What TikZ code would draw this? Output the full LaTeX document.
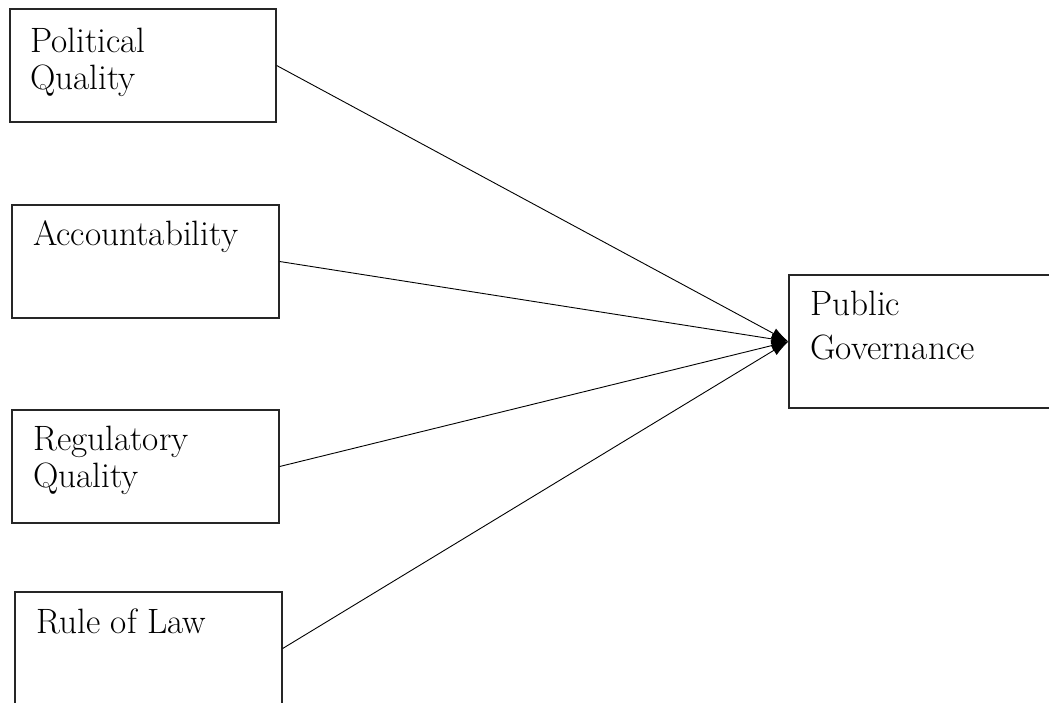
\documentclass[tikz,border=0pt]{standalone}
\usetikzlibrary{arrows.meta}
\begin{document}
\begin{tikzpicture}[x=1pt,y=-1pt,
  box/.style={draw=black!85, line width=1.3pt, rectangle, inner sep=0pt},
  lbl/.style={anchor=base west, inner sep=0pt, font=\fontsize{35.2}{40}\selectfont},
  conn/.style={draw=black, line width=0.9pt, -{Latex[length=17pt,width=11pt]}}]
\useasboundingbox (0,0) rectangle (1049,702);
\clip (0,0) rectangle (1049,702);
\node[box, minimum width=266pt, minimum height=113pt] (pq) at (143,65.5) {};
\node[box, minimum width=267pt, minimum height=113pt] (ac) at (145.5,261.5) {};
\node[box, minimum width=267pt, minimum height=113pt] (rq) at (145.5,466.5) {};
\node[box, minimum width=267pt, minimum height=113pt] (rl) at (148.5,648.5) {};
\node[box, minimum width=267pt, minimum height=133pt] (pg) at (922.5,341.5) {};
\node[lbl] (t1) at (30,52) {Political};
\node[lbl] (t2) at (30,89) {Quality};
\node[lbl] (t3) at (33,245) {Accountability};
\node[lbl] (t4) at (33,450) {Regulatory};
\node[lbl] (t5) at (33,487) {Quality};
\node[lbl] (t6) at (36,633) {Rule of Law};
\node[lbl] (t7) at (810,315) {Public};
\node[lbl] (t8) at (810,359) {Governance};
\draw[conn] (pq.east) -- (pg.west);
\draw[conn] (ac.east) -- (pg.west);
\draw[conn] (rq.east) -- (pg.west);
\draw[conn] (rl.east) -- (pg.west);
\end{tikzpicture}
\end{document}
